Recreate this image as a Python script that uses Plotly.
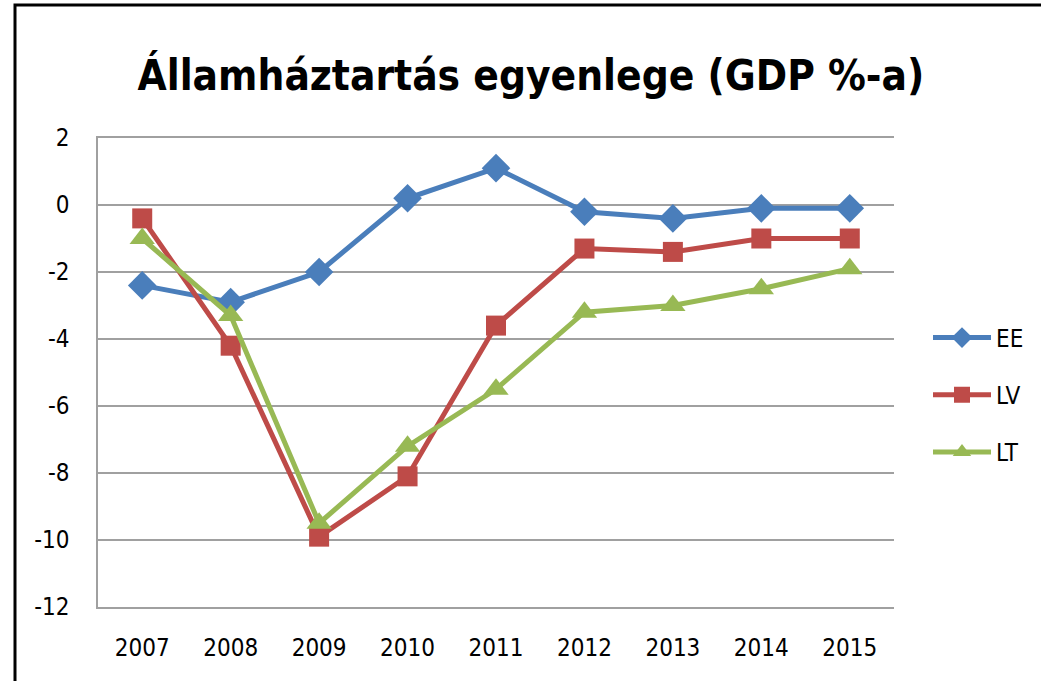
import plotly.graph_objects as go

years = ["2007", "2008", "2009", "2010", "2011", "2012", "2013", "2014", "2015"]
ee = [-2.4, -2.9, -2.0, 0.2, 1.1, -0.2, -0.4, -0.1, -0.1]
lv = [-0.4, -4.2, -9.9, -8.1, -3.6, -1.3, -1.4, -1.0, -1.0]
lt = [-1.0, -3.3, -9.5, -7.2, -5.5, -3.2, -3.0, -2.5, -1.9]
y_ticks = [2, 0, -2, -4, -6, -8, -10, -12]

FONT = "DejaVu Sans Condensed, Liberation Sans Narrow, Noto Sans, sans-serif"

fig = go.Figure()
series = [
    ("EE", ee, "#4A7EBB", "diamond", 22),
    ("LV", lv, "#BE4B48", "square", 20),
    ("LT", lt, "#98B954", "triangle-up", 22),
]
for name, vals, col, sym, sz in series:
    fig.add_trace(go.Scatter(
        x=years, y=vals, name=name, mode="lines+markers",
        line=dict(color=col, width=5),
        marker=dict(symbol=sym, size=sz, color=col, line=dict(width=0)),
        legendgroup=name,
    ))

L, R, T, B = 98, 147, 138, 74
W, H = 1041, 681
pw, ph = W - L - R, H - T - B

fig.update_layout(
    width=W, height=H,
    margin=dict(l=L, r=R, t=T, b=B, pad=0),
    paper_bgcolor="white", plot_bgcolor="white",
    font=dict(family=FONT, color="#000000", size=24),
    title=dict(text="<b>Államháztartás egyenlege (GDP %-a)</b>",
               font=dict(family=FONT, size=42, color="#000000"),
               x=0.51, xanchor="center", y=(H - 75) / H, yanchor="middle"),
    showlegend=True,
    legend=dict(x=(928 - L) / pw, xanchor="left", y=(H - B - 395) / ph, yanchor="middle",
                font=dict(family=FONT, size=24, color="#000000"),
                traceorder="grouped", tracegroupgap=23, itemwidth=58,
                bgcolor="rgba(0,0,0,0)"),
    xaxis=dict(type="category", categoryorder="array", categoryarray=years,
               range=[-0.5, 8.5], showgrid=False, zeroline=False,
               showline=True, mirror=True, linecolor="#A0A0A0", linewidth=1.5,
               ticks="outside", ticklen=18, tickcolor="rgba(0,0,0,0)",
               tickfont=dict(family=FONT, size=24, color="#000000")),
    yaxis=dict(range=[-12, 2], tickvals=y_ticks, ticktext=[str(v) for v in y_ticks],
               showgrid=True, gridcolor="#A0A0A0", gridwidth=1.5,
               zeroline=False, showline=True, linecolor="#A0A0A0", linewidth=1.5,
               ticks="outside", ticklen=22, tickcolor="rgba(0,0,0,0)",
               tickfont=dict(family=FONT, size=24, color="#000000")),
)

fig.add_shape(type="rect", xref="paper", yref="paper",
              x0=(15 - L) / pw, x1=(W + 20 - L) / pw,
              y0=-(B + 20) / ph, y1=(H - B - 5) / ph,
              line=dict(color="#000000", width=3), fillcolor="rgba(0,0,0,0)", layer="below")

fig.write_html("out.html", config={"displayModeBar": False},
               post_script="document.body.style.margin='0';document.body.style.overflow='hidden';")
